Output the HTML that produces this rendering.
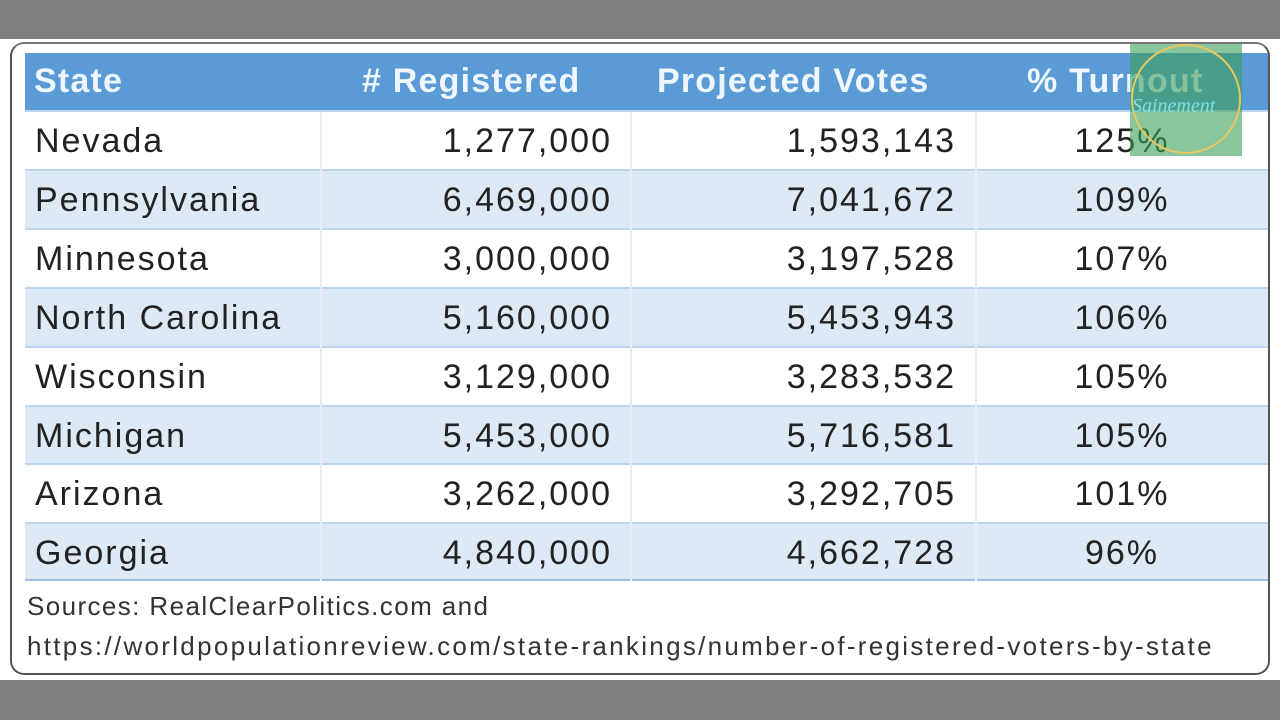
<!DOCTYPE html>
<html><head><style>
body{margin:0;width:1280px;height:720px;background:#808080;position:relative;overflow:hidden;font-family:"Liberation Sans",sans-serif}
.white{position:absolute;left:0;top:39px;width:1280px;height:641px;background:#fff}
.frame{position:absolute;left:10px;top:42px;width:1260px;height:633px;border:2px solid #555;border-radius:14px;box-sizing:border-box;border-top-color:#777}
.hdr{position:absolute;left:25px;top:53px;width:1243px;height:57px;background:#5b9bd5}
.h{position:absolute;top:53px;height:57px;line-height:57px;color:#eef6ff;font-weight:bold;font-size:34px;letter-spacing:1.2px}
.row{position:absolute;left:25px;width:1243px;height:57px;border-top:2px solid #bcd5ec;box-sizing:border-box}
.c{position:absolute;font-size:34px;color:#222;line-height:59px;letter-spacing:2px}
.div{position:absolute;top:112px;width:2px;height:469px;background:#e6edf5}
.src{position:absolute;left:27px;font-size:26px;color:#333;letter-spacing:2px}
</style></head><body>
<div class="white"></div>
<div class="frame"></div>
<div class="hdr"></div>
<div class="h" style="left:34px">State</div>
<div class="h" style="left:362px">#&nbsp;Registered</div>
<div class="h" style="left:657px">Projected Votes</div>
<div class="h" style="left:1027px">% Turnout</div>
<div id="rows"></div>
<script>
var d=[["Nevada","1,277,000","1,593,143","125%"],["Pennsylvania","6,469,000","7,041,672","109%"],["Minnesota","3,000,000","3,197,528","107%"],["North Carolina","5,160,000","5,453,943","106%"],["Wisconsin","3,129,000","3,283,532","105%"],["Michigan","5,453,000","5,716,581","105%"],["Arizona","3,262,000","3,292,705","101%"],["Georgia","4,840,000","4,662,728","96%"]];
var h="";
d.forEach(function(r,i){var t=110+i*58.9;
h+='<div class="row" style="top:'+t+'px;height:59px;background:'+(i%2?'#dde9f5':'#fff')+'"></div>';
var y=t+2;
h+='<div class="c" style="top:'+y+'px;left:35px">'+r[0]+'</div>';
h+='<div class="c" style="top:'+y+'px;right:668px">'+r[1]+'</div>';
h+='<div class="c" style="top:'+y+'px;right:324px">'+r[2]+'</div>';
h+='<div class="c" style="top:'+y+'px;left:1022px;width:200px;text-align:center">'+r[3]+'</div>';
});
h+='<div class="row" style="top:579px;height:2px;border-top:2px solid #9fc0e0"></div>';
h+='<div class="div" style="left:320px"></div><div class="div" style="left:630px"></div><div class="div" style="left:975px"></div>';
document.getElementById("rows").innerHTML=h;
</script>
<div style="position:absolute;left:1130px;top:44px;width:112px;height:112px;background:rgba(60,160,90,0.6)"></div>
<div style="position:absolute;left:1131px;top:44px;width:106px;height:106px;border:2px solid #e8c860;border-radius:50%"></div>
<div style="position:absolute;left:1132px;top:95px;font-style:italic;color:#7fe0e0;font-size:20px;font-family:'Liberation Serif',serif">Sainement</div>
<div class="src" style="top:591px;letter-spacing:1.4px">Sources: RealClearPolitics.com and</div>
<div class="src" style="top:631px;letter-spacing:2.3px">https://worldpopulationreview.com/state-rankings/number-of-registered-voters-by-state</div>
</body></html>
